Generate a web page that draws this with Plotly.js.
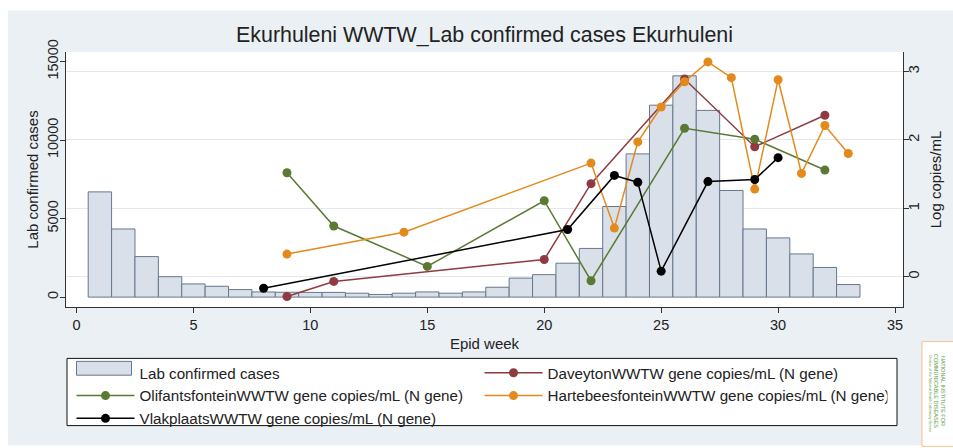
<!DOCTYPE html>
<html><head><meta charset="utf-8">
<script src="https://cdn.plot.ly/plotly-3.0.1.min.js"></script>
<style>html,body{margin:0;padding:0;background:#fff;}#chart{width:953px;height:448px;}</style>
</head><body><div id="chart"></div>
<script>
// ---- data ----
const weeks = [1,2,3,4,5,6,7,8,9,10,11,12,13,14,15,16,17,18,19,20,21,22,23,24,25,26,27,28,29,30,31,32,33];
const labCases = [6700,4340,2580,1300,840,690,480,330,310,300,300,250,170,250,330,250,330,630,1210,1430,2160,3100,5770,9120,12220,14090,11890,6790,4340,3770,2750,1890,800];

const daveytonWeeks = [9,11,20,22,26,29,32];
const daveytonVals  = [-0.29,-0.07,0.25,1.36,2.89,1.90,2.36];

const olifWeeks = [9,11,15,20,22,26,29,32];
const olifVals  = [1.52,0.74,0.15,1.11,-0.06,2.17,2.01,1.56];

const hartWeeks = [9,14,22,23,24,25,26,27,28,29,30,31,32,33];
const hartVals  = [0.33,0.65,1.66,0.71,1.97,2.48,2.85,3.14,2.91,1.28,2.88,1.51,2.21,1.80];

const vlakWeeks = [8,21,23,24,25,27,29,30];
const vlakVals  = [-0.17,0.69,1.48,1.38,0.08,1.39,1.42,1.74];

const xTicks = [0,5,10,15,20,25,30,35];
const yTicks = [0,5000,10000,15000];
const y2Ticks = [0,1,2,3];

const names = {
  lab: 'Lab confirmed cases',
  dav: 'DaveytonWWTW gene copies/mL (N gene)',
  olif: 'OlifantsfonteinWWTW gene copies/mL (N gene)',
  hart: 'HartebeesfonteinWWTW gene copies/mL (N gene)',
  vlak: 'VlakplaatsWWTW gene copies/mL (N gene)'
};

// ---- layout geometry ----
const W = 953, H = 448, L = 66, R = 50, T = 52, B = 138;
const pw = W - L - R, ph = H - T - B;
const px = x => (x - L) / pw;
const py = y => (H - B - y) / ph;

const FONT = '"Liberation Sans", Arial, sans-serif';
const TXT = '#222';
const BAR_FILL = '#d9e0ea', BAR_LINE = '#66778c';
const C = {maroon:'#8f3a40', green:'#5a7a34', orange:'#e38a1c', black:'#000000'};

function lineTrace(name, xs, ys, color){
  return {type:'scatter', mode:'lines+markers', name:name, x:xs, y:ys, yaxis:'y2',
    line:{color:color, width:1.5}, marker:{color:color, size:9, line:{width:0}},
    hoverinfo:'x+y'};
}

const data = [
  {type:'bar', name:names.lab, x:weeks, y:labCases, width:1,
   marker:{color:BAR_FILL, line:{color:BAR_LINE, width:1}}},
  lineTrace(names.dav, daveytonWeeks, daveytonVals, C.maroon),
  lineTrace(names.olif, olifWeeks, olifVals, C.green),
  lineTrace(names.hart, hartWeeks, hartVals, C.orange),
  lineTrace(names.vlak, vlakWeeks, vlakVals, C.black)
];

const axisCommon = {showline:true, linecolor:'#333', linewidth:1, ticks:'outside', ticklen:5,
  tickcolor:'#333', tickfont:{family:FONT, size:14.5, color:TXT}, zeroline:false};

const layout = {
  width:W, height:H, margin:{l:L, r:R, t:T, b:B, pad:0},
  paper_bgcolor:'#ffffff', plot_bgcolor:'rgba(0,0,0,0)',
  font:{family:FONT, color:TXT},
  title:{text:'Ekurhuleni WWTW_Lab confirmed cases Ekurhuleni', font:{family:FONT, size:21.4, color:TXT},
    x:0.5, xanchor:'center', y:1 - 35/H, yanchor:'middle', xref:'paper'},
  bargap:0,
  showlegend:true,
  xaxis:Object.assign({}, axisCommon, {range:[-0.449, 35.34], tickvals:xTicks, showgrid:false,
    title:{text:'Epid week', font:{family:FONT, size:15, color:TXT}, standoff:6}}),
  yaxis:Object.assign({}, axisCommon, {range:[-629, 15607], tickvals:yTicks, tickformat:'d', tickangle:-90,
    showgrid:false, ticklabelstandoff:-4,
    title:{text:'Lab confirmed cases', font:{family:FONT, size:15, color:TXT}, standoff:2}}),
  yaxis2:Object.assign({}, axisCommon, {overlaying:'y', side:'right', range:[-0.444, 3.285], tickvals:y2Ticks,
    tickangle:-90, showgrid:true, gridcolor:'#e3e8ec', gridwidth:1, ticklabelstandoff:-7,
    title:{text:'Log copies/mL', font:{family:FONT, size:15, color:TXT}, standoff:9}}),
  legend:{orientation:'h', x:px(71.5), xanchor:'left', y:py(360), yanchor:'top',
    bgcolor:'rgba(0,0,0,0)', borderwidth:0, font:{family:FONT, size:15.2, color:TXT},
    entrywidth:335, entrywidthmode:'pixels', itemwidth:58, tracegroupgap:0, traceorder:'normal'},
  shapes:[
    {type:'rect', xref:'paper', yref:'paper', x0:px(8), x1:px(W+2), y0:py(10), y1:py(H+2),
     fillcolor:'#eaf0f3', line:{width:0}, layer:'below'},
    {type:'rect', xref:'paper', yref:'paper', x0:0, x1:1, y0:0, y1:1,
     fillcolor:'#ffffff', line:{width:0}, layer:'below'},
    {type:'rect', xref:'paper', yref:'paper', x0:px(67), x1:px(897), y0:py(362), y1:py(430),
     fillcolor:'#ffffff', line:{color:'#111', width:1}, layer:'below'},
    // wide legend key for the bar series
    {type:'rect', xref:'paper', yref:'paper', x0:px(76.5), x1:px(131.5), y0:py(365), y1:py(379),
     fillcolor:BAR_FILL, line:{color:BAR_LINE, width:1}, layer:'below'},
    {type:'rect', xref:'paper', yref:'paper', x0:px(922), x1:px(W+3), y0:py(345), y1:py(H+3),
     fillcolor:'#ffffff', line:{color:'#f3c495', width:1}, layer:'below'}
  ],
  annotations:[
    {xref:'paper', yref:'paper', x:px(940), y:py(395), text:'NATIONAL INSTITUTE FOR<br>COMMUNICABLE DISEASES',
     showarrow:false, textangle:90, font:{family:FONT, size:5.5, color:'#5a9e3c'}, xanchor:'center', yanchor:'middle'},
    {xref:'paper', yref:'paper', x:px(930), y:py(397), text:'Division of the National Health Laboratory Service',
     showarrow:false, textangle:90, font:{family:FONT, size:3.5, color:'#5a9e3c'}, xanchor:'center', yanchor:'middle'}
  ]
};

function hideBarLegendSymbol(){
  document.querySelectorAll('#chart .legend .traces').forEach(g => {
    const t = g.querySelector('text.legendtext');
    if (t && t.textContent === names.lab) {
      g.querySelectorAll('.legendpoints path, .legendsymbols path').forEach(p => { p.style.display = 'none'; });
    }
  });
}

Plotly.newPlot('chart', data, layout, {displayModeBar:false, staticPlot:true}).then(hideBarLegendSymbol);
</script>
</body></html>
